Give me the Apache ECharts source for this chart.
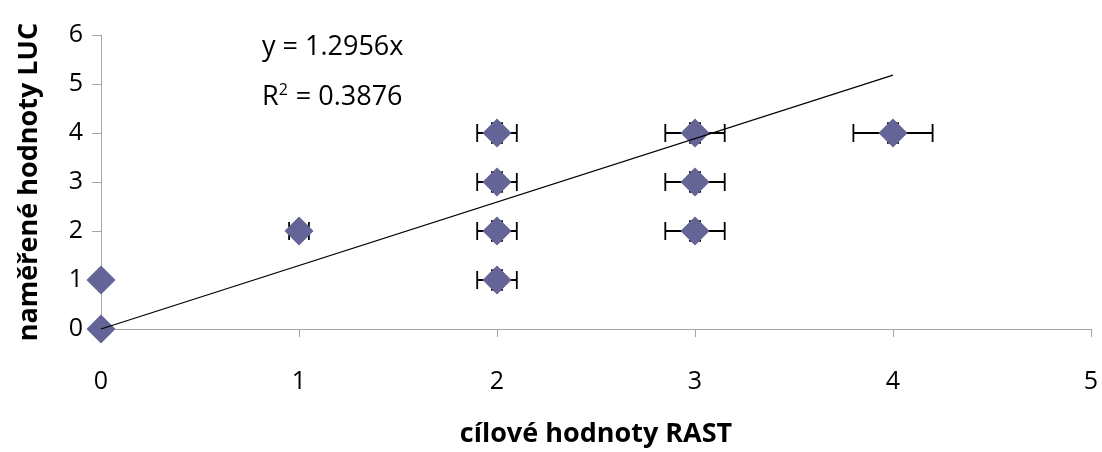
<!DOCTYPE html>
<html>
<head>
<meta charset="utf-8">
<script src="https://cdn.jsdelivr.net/npm/echarts@6/dist/echarts.min.js"></script>
<style>
  html, body { margin: 0; padding: 0; background: #fff; }
  #main_container { width: 1102px; height: 452px; }
</style>
</head>
<body>
<div id="main_container"></div>
<script>
// measured points (RAST target vs LUC measured)
const pointsX = [0, 0, 1, 2, 2, 2, 2, 3, 3, 3, 4];
const pointsY = [0, 1, 2, 1, 2, 3, 4, 2, 3, 4, 4];
// error bars (+/-)
const errX = [0, 0, 0.05, 0.1, 0.1, 0.1, 0.1, 0.15, 0.15, 0.15, 0.2];
const errY = [0, 0, 0, 0.2, 0.2, 0.2, 0.2, 0.2, 0.2, 0.2, 0.2];
// linear trend line y = 1.2956x, drawn from x=0 to x=4
const trendX = [0, 4];
const trendY = [0, 5.18];
const equationText = "y = 1.2956x";
const r2Value = "0.3876";
const xTicks = [0, 1, 2, 3, 4, 5];
const yTicks = [0, 1, 2, 3, 4, 5, 6];

const fontFamily = "'Open Sans', 'Liberation Sans', sans-serif";
const pointColor = "#646497";

var scatterData = pointsX.map(function (x, i) { return [x, pointsY[i]]; });
var errData = pointsX.map(function (x, i) { return [x, pointsY[i], errX[i], errY[i]]; });
var trendData = trendX.map(function (x, i) { return [x, trendY[i]]; });

var myChart = echarts.init(document.getElementById("main_container"));

myChart.setOption({
  animation: false,
  grid: { left: 101, right: 11, top: 35, bottom: 123, containLabel: false, outerBoundsMode: "none" },
  graphic: [
    {
      type: "text", left: 262, top: 34,
      style: { text: equationText, fontSize: 27, fontFamily: fontFamily, fill: "#000" }
    },
    {
      type: "text", left: 262, top: 82,
      style: {
        text: "R{sup|2} = " + r2Value,
        fontSize: 27, fontFamily: fontFamily, fill: "#000",
        rich: {
          sup: { fontSize: 16, fontFamily: fontFamily, verticalAlign: "top", padding: [0, 1, 15, 0] }
        }
      }
    }
  ],
  xAxis: {
    type: "value",
    min: xTicks[0],
    max: xTicks[xTicks.length - 1],
    interval: 1,
    name: "cílové hodnoty RAST",
    nameLocation: "middle",
    nameGap: 92,
    nameTextStyle: { fontSize: 27, fontWeight: "bold", fontFamily: fontFamily, color: "#000" },
    axisLine: { show: true, lineStyle: { color: "#a6a6a6", width: 1 } },
    axisTick: { show: true, length: 8, lineStyle: { color: "#a6a6a6" } },
    axisLabel: { margin: 40, fontSize: 25, fontFamily: fontFamily, color: "#000" },
    splitLine: { show: false }
  },
  yAxis: {
    type: "value",
    min: yTicks[0],
    max: yTicks[yTicks.length - 1],
    interval: 1,
    name: "naměřené hodnoty LUC",
    nameLocation: "middle",
    nameGap: 58,
    nameTextStyle: { fontSize: 27, fontWeight: "bold", fontFamily: fontFamily, color: "#000" },
    axisLine: { show: true, lineStyle: { color: "#a6a6a6", width: 1 } },
    axisTick: { show: true, length: 9, lineStyle: { color: "#a6a6a6" } },
    axisLabel: { margin: 18, fontSize: 25, fontFamily: fontFamily, color: "#000" },
    splitLine: { show: false }
  },
  series: [
    {
      // error bars
      type: "custom",
      z: 2,
      data: errData,
      renderItem: function (params, api) {
        var x = api.value(0), y = api.value(1), ex = api.value(2), ey = api.value(3);
        var children = [];
        var style = { stroke: "#000", lineWidth: 1.8 };
        if (ex > 0) {
          var l = api.coord([x - ex, y]), r = api.coord([x + ex, y]);
          children.push({ type: "line", shape: { x1: l[0], y1: l[1], x2: r[0], y2: r[1] }, style: style });
          children.push({ type: "line", shape: { x1: l[0], y1: l[1] - 9, x2: l[0], y2: l[1] + 9 }, style: style });
          children.push({ type: "line", shape: { x1: r[0], y1: r[1] - 9, x2: r[0], y2: r[1] + 9 }, style: style });
        }
        if (ey > 0) {
          var t = api.coord([x, y + ey]), b = api.coord([x, y - ey]);
          children.push({ type: "line", shape: { x1: t[0], y1: t[1], x2: b[0], y2: b[1] }, style: style });
          children.push({ type: "line", shape: { x1: t[0] - 6, y1: t[1], x2: t[0] + 6, y2: t[1] }, style: style });
          children.push({ type: "line", shape: { x1: b[0] - 6, y1: b[1], x2: b[0] + 6, y2: b[1] }, style: style });
        }
        return { type: "group", children: children };
      }
    },
    {
      type: "scatter",
      z: 3,
      symbol: "diamond",
      symbolSize: 29,
      itemStyle: { color: pointColor, opacity: 1 },
      data: scatterData
    },
    {
      type: "line",
      z: 4,
      data: trendData,
      showSymbol: false,
      lineStyle: { color: "#000", width: 1.2 }
    }
  ]
});
</script>
</body>
</html>
